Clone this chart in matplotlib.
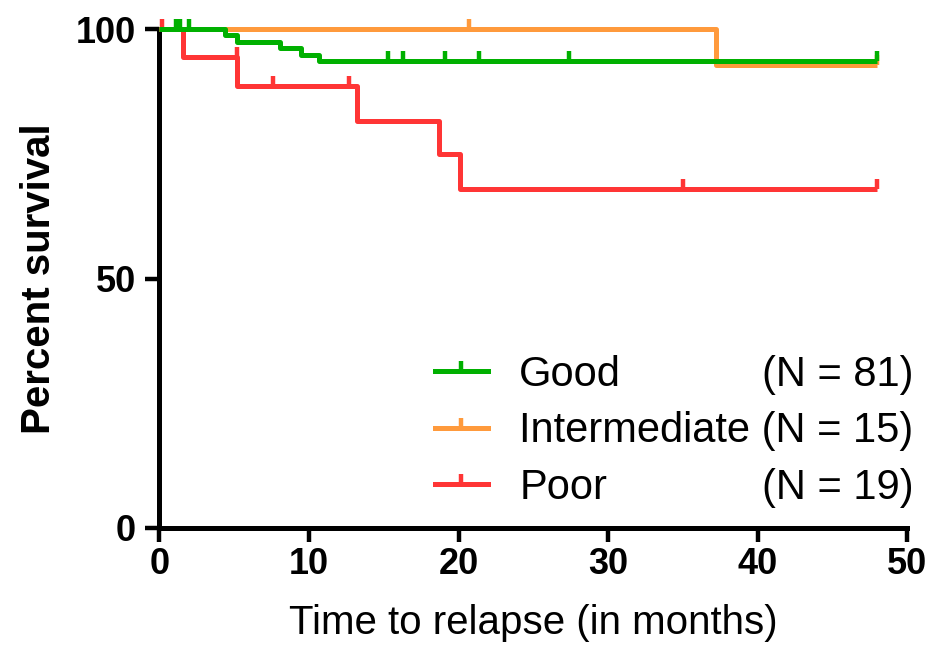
import numpy as np
import matplotlib
matplotlib.use("Agg")
import matplotlib.pyplot as plt
from matplotlib.path import Path
from matplotlib.lines import Line2D

# Kaplan-Meier curves (time in months, survival in %)
groups = ["Good", "Intermediate", "Poor"]
group_n = [81, 15, 19]
colors = ["#00b000", "#ff9a3c", "#ff3535"]

good_time = [0, 4.4, 5.2, 8.1, 9.5, 10.7, 48]
good_surv = [100, 98.8, 97.5, 96.2, 94.9, 93.6, 93.6]
good_censor = [1.1, 1.4, 2.0, 15.3, 16.3, 19.1, 21.4, 27.4, 48]

inter_time = [0, 37.2, 48]
inter_surv = [100, 92.9, 92.9]
inter_censor = [20.7, 48]

poor_time = [0, 1.6, 5.2, 13.2, 18.7, 20.1, 48]
poor_surv = [100, 94.4, 88.6, 81.7, 74.9, 68.0, 68.0]
poor_censor = [0.2, 5.2, 7.6, 12.7, 35.0, 48]

x_ticks = [0, 10, 20, 30, 40, 50]
y_ticks = [0, 50, 100]


def censor_levels(times, surv, censor):
    # survival level just before each censoring time
    idx = np.searchsorted(times, censor, side="left") - 1
    idx = np.clip(idx, 0, None)
    return np.asarray(surv)[idx]


plt.rcParams["font.family"] = ["Liberation Sans", "DejaVu Sans"]

# tick mark pointing up from the curve
tick_marker = Path([(0, 0), (0, 1)], [Path.MOVETO, Path.LINETO])

fig = plt.figure(figsize=(9.45, 6.59), dpi=100)
ax = fig.add_axes([0.1686, 0.1991, 0.7915, 0.7564])

curves = [
    (good_time, good_surv, good_censor),
    (inter_time, inter_surv, inter_censor),
    (poor_time, poor_surv, poor_censor),
]
lw = 3.6
msize = 15
mew = 3.2
# draw poor first, good last (good sits on top at 100 %)
for i in [2, 1, 0]:
    t, s, c = curves[i]
    ax.step(t, s, where="post", color=colors[i], linewidth=lw,
            clip_on=False, zorder=3 + (2 - i), solid_capstyle="butt")
    ax.plot(c, censor_levels(t, s, c), linestyle="none", marker=tick_marker,
            markersize=msize, markeredgewidth=mew, markeredgecolor=colors[i],
            clip_on=False, zorder=3 + (2 - i))

ax.set_xlim(0, 50)
ax.set_ylim(0, 100)
ax.set_xticks(x_ticks)
ax.set_yticks(y_ticks)

for side in ["top", "right"]:
    ax.spines[side].set_visible(False)
for side in ["left", "bottom"]:
    ax.spines[side].set_linewidth(3.6)
    ax.spines[side].set_capstyle("projecting")

ax.tick_params(axis="both", direction="out", length=10, width=3.2,
               labelsize=26, color="black")
ax.tick_params(axis="x", pad=4)
ax.tick_params(axis="y", pad=7)
for lab in ax.get_xticklabels() + ax.get_yticklabels():
    lab.set_fontweight("bold")

ax.set_xlabel("Time to relapse (in months)", fontsize=29)
ax.xaxis.label.set_va("center")
ax.xaxis.set_label_coords(0.5, -0.192)
ax.set_ylabel("Percent survival", fontsize=29, fontweight="bold")
ax.yaxis.label.set_va("center")
ax.yaxis.set_label_coords(-0.161, 0.5)

# legend
handles = [Line2D([], [], color=colors[i], linewidth=lw, marker=tick_marker,
                  markersize=msize, markeredgewidth=mew, markeredgecolor=colors[i])
           for i in range(3)]
labels = []
longest = max(range(3), key=lambda k: len(groups[k]))
for i in range(3):
    if i == longest:
        labels.append(f"{groups[i]} (N = {group_n[i]})")
    else:
        labels.append(groups[i])
leg = ax.legend(handles, labels, loc="lower left", bbox_to_anchor=(0.3686, 0.04),
                frameon=False, fontsize=30, handlelength=1.27, handletextpad=0.75,
                labelspacing=0.4, borderpad=0, borderaxespad=0, numpoints=1)

fig.canvas.draw()
inv = ax.transAxes.inverted()
for i, txt in enumerate(leg.get_texts()):
    if i == longest:
        continue
    bb = txt.get_window_extent()
    yc = inv.transform((0, (bb.y0 + bb.y1) / 2))[1]
    ax.text(0.806, yc, f"(N = {group_n[i]})", fontsize=30,
            va="center", ha="left", transform=ax.transAxes)

fig.savefig("out.png", dpi=100)
